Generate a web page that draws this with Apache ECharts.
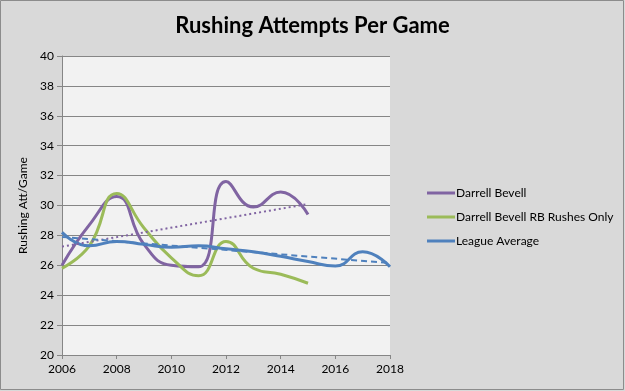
<!DOCTYPE html>
<html><head><meta charset="utf-8">
<script src="https://cdn.jsdelivr.net/npm/echarts@6/dist/echarts.min.js"></script>
<style>html,body{margin:0;padding:0;background:#d9d9d9;}#c{width:625px;height:391px;}</style>
</head><body><div id="c"></div>
<script>
const years = [2006,2007,2008,2009,2010,2011,2012,2013,2014,2015,2016,2017,2018];
const bevell = [26.0,28.7,30.6,27.4,26.0,25.9,31.6,29.9,30.9,29.4];
const bevellRB = [25.8,27.3,30.8,28.5,26.5,25.3,27.6,25.8,25.4,24.8];
const league = [28.2,27.3,27.6,27.4,27.2,27.3,27.1,26.9,26.6,26.25,25.95,26.9,25.9];
const bevellTrend = [[2006,27.25],[2015,30.1]];
const leagueTrend = [[2006,27.9],[2018,26.15]];
const yTicks = [20,22,24,26,28,30,32,34,36,38,40];
const xTicks = [2006,2008,2010,2012,2014,2016,2018];
const names = ['Darrell Bevell','Darrell Bevell RB Rushes Only','League Average'];

function pairs(vals){ return vals.map((v,i)=>[years[i],v]); }
const font = 'Lato, "Open Sans", sans-serif';
const chart = echarts.init(document.getElementById('c'));
chart.setOption({
  animation:false,
  backgroundColor:'#d9d9d9',
  graphic:[{type:'rect',shape:{x:0.5,y:0.5,width:623,height:389},style:{fill:'none',stroke:'#8c8c8c',lineWidth:1}}],
  title:{text:'Rushing Attempts Per Game',left:'center',top:10,textStyle:{fontFamily:font,fontSize:22,fontWeight:'bold',color:'#000'}},
  grid:{left:62,right:235,top:56,bottom:36,show:true,backgroundColor:'#f2f2f2',borderWidth:0},
  legend:{data:names,orient:'vertical',left:422,top:182,itemGap:12,itemWidth:28,itemHeight:3,icon:'rect',
    textStyle:{fontFamily:font,fontSize:12,color:'#000',padding:[0,0,0,-4]}},
  xAxis:{type:'value',min:xTicks[0],max:xTicks[xTicks.length-1],interval:2,
    axisLine:{show:true,lineStyle:{color:'#868686'}},axisTick:{show:true,length:4,lineStyle:{color:'#868686'}},
    splitLine:{show:false},axisLabel:{fontFamily:font,fontSize:12,color:'#000',margin:8,formatter:v=>String(v)}},
  yAxis:{type:'value',min:yTicks[0],max:yTicks[yTicks.length-1],interval:2,name:'Rushing Att/Game',nameLocation:'middle',nameGap:28,
    nameTextStyle:{fontFamily:font,fontSize:12,color:'#000'},
    axisLine:{show:true,lineStyle:{color:'#868686'}},axisTick:{show:true,length:5,lineStyle:{color:'#868686'}},
    splitLine:{show:true,lineStyle:{color:'#868686',width:1}},axisLabel:{fontFamily:font,fontSize:12,color:'#000',margin:8}},
  series:[
    {name:names[0],type:'line',data:pairs(bevell),smooth:0.5,showSymbol:false,lineStyle:{width:3,color:'#8064a2'},itemStyle:{color:'#8064a2'},z:3},
    {name:names[1],type:'line',data:pairs(bevellRB),smooth:0.5,showSymbol:false,lineStyle:{width:3,color:'#9bbb59'},itemStyle:{color:'#9bbb59'},z:3},
    {name:names[2],type:'line',data:pairs(league),smooth:0.5,showSymbol:false,lineStyle:{width:3,color:'#4f81bd'},itemStyle:{color:'#4f81bd'},z:3},
    {name:'Bevell trend',type:'line',data:bevellTrend,showSymbol:false,lineStyle:{width:2,color:'#8064a2',type:[2,3]},z:4},
    {name:'League trend',type:'line',data:leagueTrend,showSymbol:false,lineStyle:{width:2,color:'#4f81bd',type:[6,4]},z:4}
  ]
});
</script></body></html>
